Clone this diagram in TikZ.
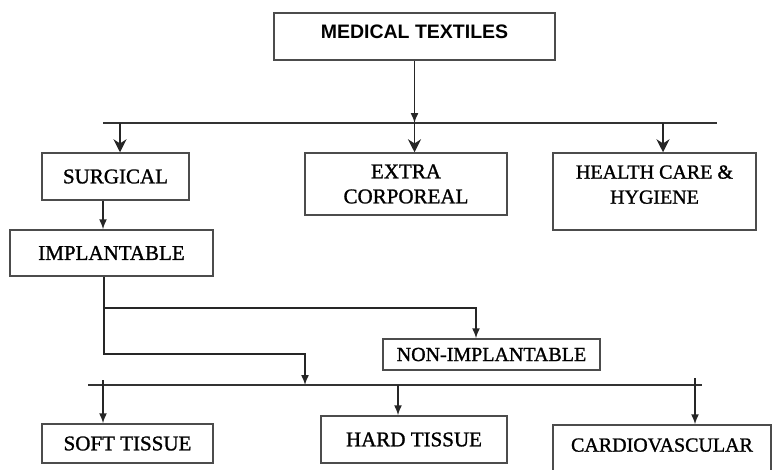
\documentclass[tikz,border=0pt]{standalone}
\usepackage{fontspec}
\setmainfont{Liberation Serif}
\newfontfamily\boxfont{Liberation Serif}[FakeBold=1.2]
\newfontfamily\headfont{Liberation Sans Bold}
\usetikzlibrary{arrows.meta}

\begin{document}
\begin{tikzpicture}[x=1pt,y=-1pt,
    box/.style={draw=black!70, line width=1.5pt, rectangle, align=center, inner sep=0pt,
      font=\boxfont\fontsize{21}{25}\selectfont},
    bigarr/.style={draw=black!85, line width=1.6pt, -{Stealth[length=13pt,width=13pt]}},
    arr/.style={draw=black!85, line width=1.5pt, -{Latex[length=10pt,width=8pt]}},
    bus/.style={draw=black!80, line width=1.6pt}]
  \useasboundingbox (0,0) rectangle (773,469);
  % Top box
  \node[box, minimum width=281pt, minimum height=47pt, text depth=9pt,
    font=\headfont\fontsize{19.5}{22}\selectfont] (med) at (414.5,36.5) {MEDICAL TEXTILES};
  % First level
  \node[box, minimum width=147pt, minimum height=47pt] (surg) at (115.5,176.5) {SURGICAL};
  \node[box, minimum width=202pt, minimum height=62pt] (extra) at (406,184) {EXTRA\\CORPOREAL};
  \node[box, minimum width=203pt, minimum height=77pt, text depth=14pt,
    font=\boxfont\fontsize{20}{25}\selectfont] (health) at (654.5,191.5) {HEALTH CARE \&\\HYGIENE};
  % Implantable and non-implantable
  \node[box, minimum width=203pt, minimum height=46pt] (imp) at (111.5,253) {IMPLANTABLE};
  \node[box, minimum width=217pt, minimum height=31pt,
    font=\boxfont\fontsize{20}{24}\selectfont] (nonimp) at (491.5,354.5) {NON-IMPLANTABLE};
  % Bottom level
  \node[box, minimum width=171pt, minimum height=39pt] (soft) at (127.5,443.5) {SOFT TISSUE};
  \node[box, minimum width=186pt, minimum height=47pt] (hard) at (414,439.5) {HARD TISSUE};
  \node[box, minimum width=218pt, minimum height=60pt, text depth=20pt,
    font=\boxfont\fontsize{20}{24}\selectfont] (cardio) at (662,455) {CARDIOVASCULAR};

  % Upper bus and its arrows
  \coordinate (busL) at (103,123);
  \coordinate (busR) at (717,123);
  \coordinate (tapSurg) at (120,123);
  \coordinate (tapHealth) at (663,123);
  \draw[bus] (busL) -- (busR);
  \draw[arr] (med.south) -- (med.south |- busL);
  \draw[bigarr] (tapSurg) -- (tapSurg |- surg.north);
  \draw[bigarr] (med.south |- busL) -- (med.south |- extra.north);
  \draw[bigarr] (tapHealth) -- (tapHealth |- health.north);
  % Surgical down to implantable
  \draw[arr] ([xshift=-12.5pt]surg.south) -- ([xshift=-12.5pt]surg.south |- imp.north);

  % Branches out of implantable
  \coordinate (kneeNon) at (104,308);
  \coordinate (kneeLow) at (305,354);
  \coordinate (tapLow) at (305,385);
  \draw[arr] ([xshift=-7.5pt]imp.south) |- (kneeLow) -- (tapLow);
  \draw[arr] (kneeNon) -| ([xshift=-15.5pt]nonimp.north);

  % Lower bus and its arrows
  \coordinate (bus2L) at (88,385);
  \coordinate (bus2R) at (702,385);
  \coordinate (tapSoft) at (103,380);
  \coordinate (tapHard) at (398,385);
  \coordinate (tapCardio) at (695,378);
  \draw[bus] (bus2L) -- (bus2R);
  \draw[arr] (tapSoft) -- (tapSoft |- soft.north);
  \draw[arr] (tapHard) -- (tapHard |- hard.north);
  \draw[arr] (tapCardio) -- (tapCardio |- cardio.north);
\end{tikzpicture}
\end{document}
